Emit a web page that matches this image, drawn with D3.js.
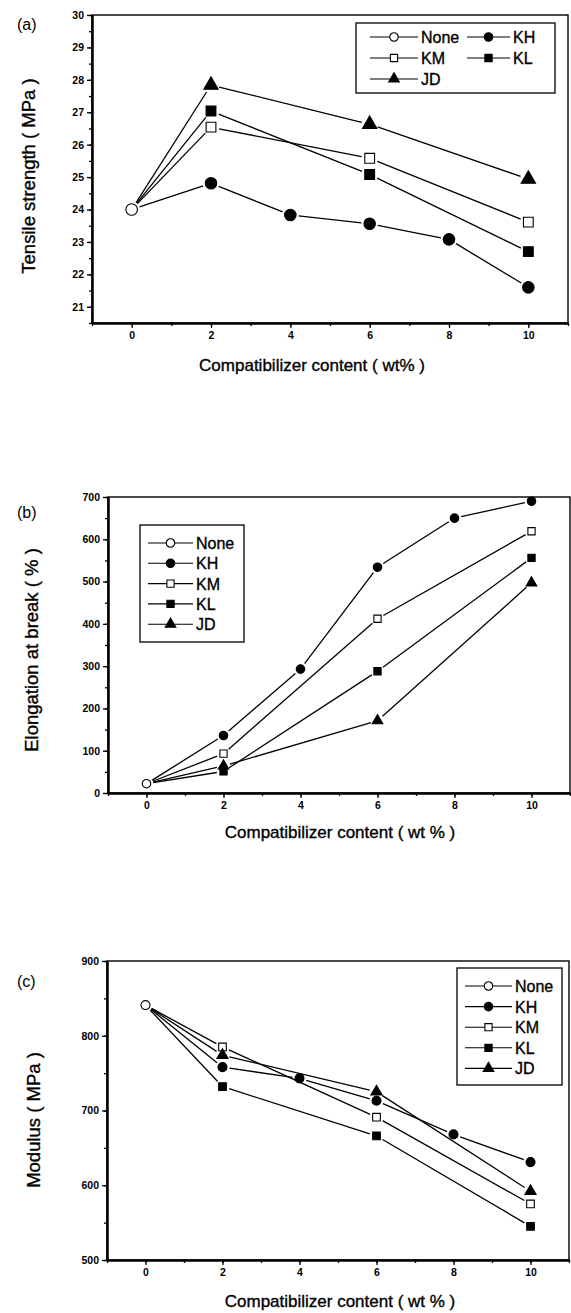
<!DOCTYPE html>
<html>
<head>
<meta charset="utf-8">
<script src="https://cdn.jsdelivr.net/npm/d3@7"></script>
<style>
body { margin: 0; background: #fff; }
svg { font-family: "Liberation Sans", Arial, sans-serif; }
</style>
</head>
<body>
<div id="chart-area"></div>
<script>
// series names and x positions (wt%)
var names = ["None", "KH", "KM", "KL", "JD"];
var contentNone = [0];
var contentKH = [0, 2, 4, 6, 8, 10];
var contentOther = [0, 2, 6, 10];
var xTicks = [0, 2, 4, 6, 8, 10];

// (a) tensile strength, MPa
var tensileNone = [24.0];
var tensileKH = [24.0, 24.81, 23.83, 23.56, 23.08, 21.6];
var tensileKM = [24.0, 26.54, 25.58, 23.61];
var tensileKL = [24.0, 27.04, 25.08, 22.70];
var tensileJD = [24.0, 27.84, 26.63, 24.94];
var tensileTicks = [21, 22, 23, 24, 25, 26, 27, 28, 29, 30];

// (b) elongation at break, %
var elongNone = [22];
var elongKH = [22, 136, 293, 534, 650, 690];
var elongKM = [22, 93, 412, 619];
var elongKL = [22, 51, 288, 556];
var elongJD = [22, 64, 171, 497];
var elongTicks = [0, 100, 200, 300, 400, 500, 600, 700];

// (c) modulus, MPa
var modulusNone = [841];
var modulusKH = [841, 758, 743, 713, 668, 631];
var modulusKM = [841, 785, 691, 575];
var modulusKL = [841, 732, 666, 545];
var modulusJD = [841, 774, 725, 592];
var modulusTicks = [500, 600, 700, 800, 900];

var svg = d3.select("#chart-area").append("svg").attr("width", 571).attr("height", 1313);

var shapes = {
	None: {type: d3.symbolCircle, fill: "#fff"},
	KH: {type: d3.symbolCircle, fill: "#000"},
	KM: {type: d3.symbolSquare, fill: "#fff"},
	KL: {type: d3.symbolSquare, fill: "#000"},
	JD: {type: d3.symbolTriangle, fill: "#000"}
};

// symbol area from a visible width
function area(name, w) {
	var s = shapes[name].type;
	if (s === d3.symbolCircle) return Math.PI * w * w / 4;
	if (s === d3.symbolSquare) return w * w;
	return w * w * Math.sqrt(3) / 4;
}

function symWidth(name, w) {
	if (name === "JD") return w * 1.25;
	if (shapes[name].type === d3.symbolSquare) return w * 0.85;
	return w;
}

function drawSymbol(g, name, cx, cy, w) {
	g.append("path")
		.attr("d", d3.symbol().type(shapes[name].type).size(area(name, w))())
		.attr("transform", "translate(" + cx + "," + cy + ")")
		.attr("fill", shapes[name].fill)
		.attr("stroke", "#000")
		.attr("stroke-width", 1.1);
}

// scanned text looks heavier than plain regular
function heavy(sel) {
	return sel.attr("stroke", "#000").attr("stroke-width", 0.35);
}

function drawPanel(p) {
	var g = svg.append("g");
	var x = d3.scaleLinear().domain([-1, 11]).range([p.left, p.right]);
	var y = d3.scaleLinear().domain(p.yDomain).range([p.bottom, p.top]);

	g.append("rect")
		.attr("x", p.left).attr("y", p.top)
		.attr("width", p.right - p.left).attr("height", p.bottom - p.top)
		.attr("fill", "none").attr("stroke", "#000").attr("stroke-width", 1.4);

	// minor ticks
	g.append("g").attr("transform", "translate(0," + p.bottom + ")")
		.call(d3.axisBottom(x).tickValues(d3.range(-1, 12, 1)).tickSize(3).tickSizeOuter(0).tickFormat(""));
	g.append("g").attr("transform", "translate(" + p.left + ",0)")
		.call(d3.axisLeft(y).tickValues(d3.range(p.yDomain[0], p.yDomain[1] + 0.001, p.minor)).tickSize(3).tickSizeOuter(0).tickFormat(""));

	// major ticks
	g.append("g").attr("class", "axis").attr("transform", "translate(0," + p.bottom + ")")
		.call(d3.axisBottom(x).tickValues(xTicks).tickSize(5).tickSizeOuter(0).tickPadding(4));
	g.append("g").attr("class", "axis").attr("transform", "translate(" + p.left + ",0)")
		.call(d3.axisLeft(y).tickValues(p.yTicks).tickSize(5).tickSizeOuter(0).tickPadding(3));

	g.selectAll(".tick line").attr("stroke-width", 1.3);
	g.selectAll(".domain").attr("stroke-width", 2);
	g.selectAll(".axis text")
		.attr("font-size", "10.5px")
		.attr("font-weight", "bold")
		.attr("font-family", "'Liberation Sans', Arial, sans-serif");

	// lines, cut short around each symbol
	var gap = p.sym / 2 + 2.5;
	p.series.forEach(function(s) {
		var pts = s.xs.map(function(v, i) { return [x(v), y(s.ys[i])]; });
		for (var i = 1; i < pts.length; i++) {
			var a = pts[i - 1], b = pts[i];
			var dx = b[0] - a[0], dy = b[1] - a[1];
			var len = Math.sqrt(dx * dx + dy * dy);
			var ux = dx / len, uy = dy / len;
			g.append("line")
				.attr("x1", a[0] + ux * gap).attr("y1", a[1] + uy * gap)
				.attr("x2", b[0] - ux * gap).attr("y2", b[1] - uy * gap)
				.attr("stroke", "#000").attr("stroke-width", 1.3);
		}
	});
	// symbols, None drawn last
	p.series.forEach(function(s) {
		s.xs.forEach(function(v, i) {
			if (s.name !== "None" && v === 0) return;
			drawSymbol(g, s.name, x(v), y(s.ys[i]), symWidth(s.name, p.sym));
		});
	});

	// legend
	var L = p.legend;
	g.append("rect")
		.attr("x", L.x0).attr("y", L.y0).attr("width", L.x1 - L.x0).attr("height", L.y1 - L.y0)
		.attr("fill", "#fff").attr("stroke", "#000").attr("stroke-width", 1.3);
	L.items.forEach(function(it) {
		g.append("line")
			.attr("x1", it.lx0).attr("x2", it.lx1).attr("y1", it.y).attr("y2", it.y)
			.attr("stroke", "#000").attr("stroke-width", 1.1);
		drawSymbol(g, it.name, (it.lx0 + it.lx1) / 2, it.y, symWidth(it.name, L.sym));
		heavy(g.append("text")
			.attr("x", it.lx1 + 3).attr("y", it.y + 6)
			.attr("font-size", "16px")
			.text(it.name));
	});

	// labels
	g.append("text")
		.attr("x", 17).attr("y", p.tagY)
		.attr("font-size", "16px")
		.text(p.tag);
	heavy(g.append("text")
		.attr("x", p.xTitleX).attr("y", p.xTitleY)
		.attr("text-anchor", "middle")
		.attr("font-size", "17px")
		.text(p.xTitle));
	heavy(g.append("text")
		.attr("transform", "translate(" + p.yTitleX + "," + p.yTitleY + ") rotate(-90)")
		.attr("text-anchor", "middle")
		.attr("font-size", "18.5px")
		.text(p.yTitle));
}

function makeSeries(ysNone, ysKH, ysKM, ysKL, ysJD) {
	return [
		{name: "KH", xs: contentKH, ys: ysKH},
		{name: "KM", xs: contentOther, ys: ysKM},
		{name: "KL", xs: contentOther, ys: ysKL},
		{name: "JD", xs: contentOther, ys: ysJD},
		{name: "None", xs: contentNone, ys: ysNone}
	];
}

drawPanel({
	tag: "(a)", tagY: 30,
	left: 92, right: 568, top: 15, bottom: 323,
	yDomain: [20.5, 30], yTicks: tensileTicks, minor: 0.5,
	sym: 11.5,
	series: makeSeries(tensileNone, tensileKH, tensileKM, tensileKL, tensileJD),
	xTitle: "Compatibilizer content ( wt% )", xTitleX: 312, xTitleY: 371,
	yTitle: "Tensile strength ( MPa )", yTitleX: 35, yTitleY: 176,
	legend: {
		x0: 356, x1: 555, y0: 23, y1: 93, sym: 8.5,
		items: [
			{name: "None", lx0: 370, lx1: 418, y: 37},
			{name: "KH", lx0: 467, lx1: 510, y: 37},
			{name: "KM", lx0: 370, lx1: 418, y: 58},
			{name: "KL", lx0: 467, lx1: 510, y: 58},
			{name: "JD", lx0: 370, lx1: 418, y: 79}
		]
	}
});

drawPanel({
	tag: "(b)", tagY: 518,
	left: 108, right: 570, top: 497, bottom: 793,
	yDomain: [0, 700], yTicks: elongTicks, minor: 50,
	sym: 8.5,
	series: makeSeries(elongNone, elongKH, elongKM, elongKL, elongJD),
	xTitle: "Compatibilizer content ( wt % )", xTitleX: 340, xTitleY: 838,
	yTitle: "Elongation at break ( % )", yTitleX: 38, yTitleY: 650,
	legend: {
		x0: 140, x1: 244, y0: 525, y1: 642, sym: 8.5,
		items: names.map(function(n, i) { return {name: n, lx0: 148, lx1: 193, y: 543 + i * 20.3}; })
	}
});

drawPanel({
	tag: "(c)", tagY: 987,
	left: 107, right: 569, top: 961, bottom: 1260,
	yDomain: [500, 900], yTicks: modulusTicks, minor: 50,
	sym: 9,
	series: makeSeries(modulusNone, modulusKH, modulusKM, modulusKL, modulusJD),
	xTitle: "Compatibilizer content ( wt % )", xTitleX: 340, xTitleY: 1307,
	yTitle: "Modulus ( MPa )", yTitleX: 40, yTitleY: 1120,
	legend: {
		x0: 457, x1: 562, y0: 968, y1: 1085, sym: 8.5,
		items: names.map(function(n, i) { return {name: n, lx0: 465, lx1: 512, y: 986 + i * 20.6}; })
	}
});
</script>
</body>
</html>
